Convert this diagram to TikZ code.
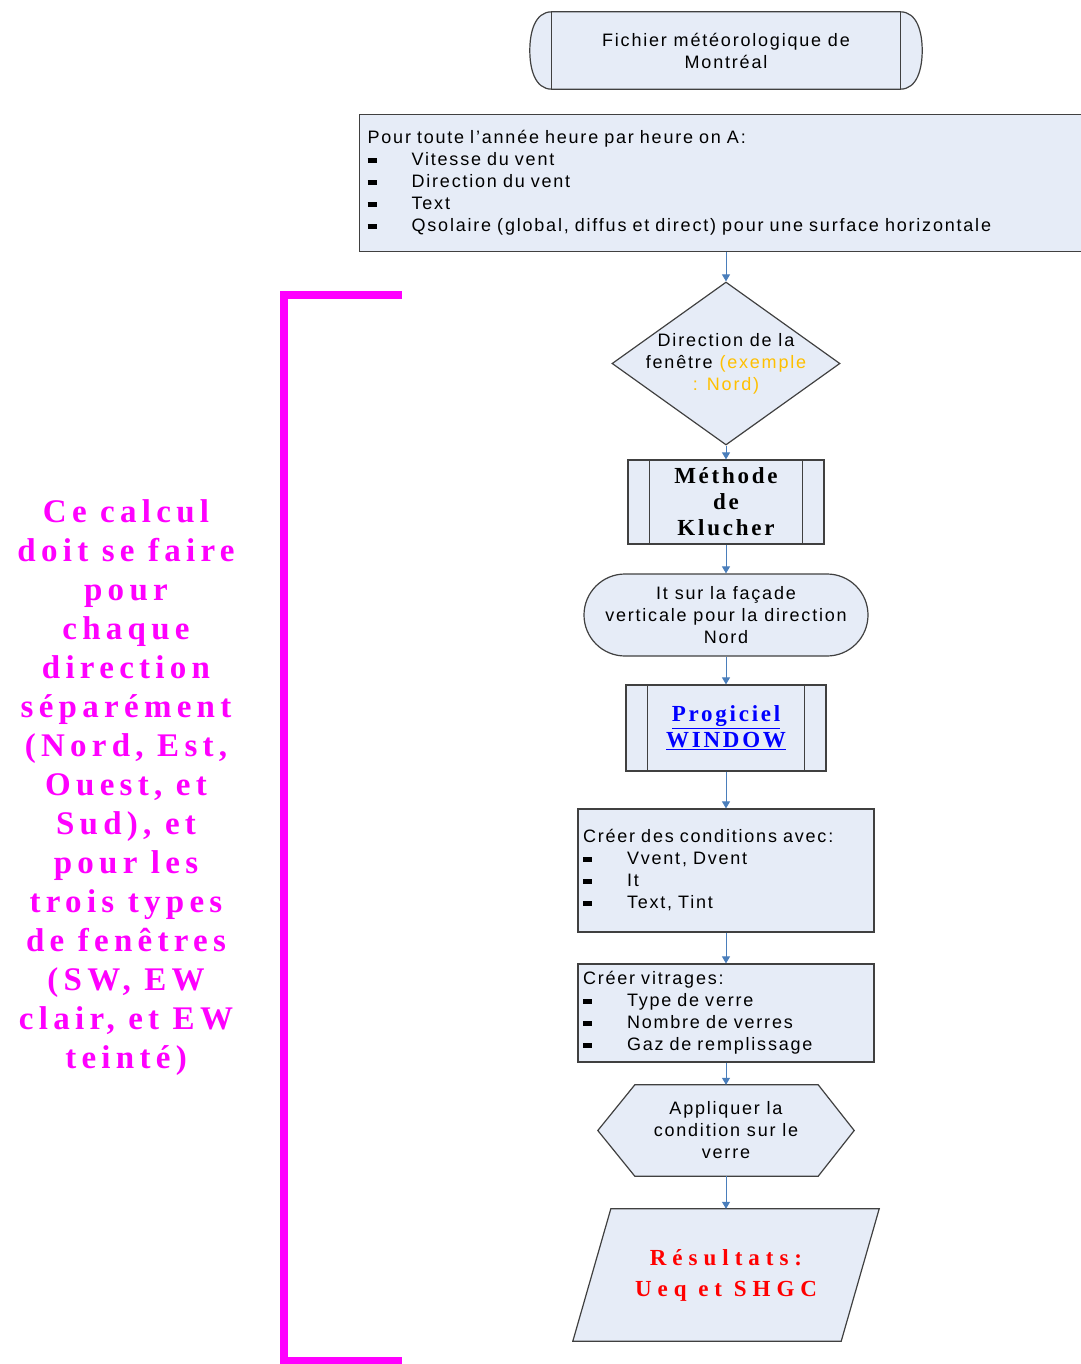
\documentclass[tikz,border=0pt]{standalone}
\usepackage{fontspec}
\setmainfont{Liberation Sans}[LetterSpace=10]
\newfontfamily\boldserif{Liberation Serif}[LetterSpace=12]
\newfontfamily\redserif{Liberation Serif}[LetterSpace=26]
\newfontfamily\magserif{Liberation Serif}[LetterSpace=16]
\usetikzlibrary{shapes.geometric,arrows.meta,calc}
\pgfdeclarelayer{bg}
\pgfsetlayers{bg,main}
\definecolor{boxfill}{HTML}{E6ECF7}
\definecolor{boxline}{HTML}{404040}
\definecolor{arrowblue}{HTML}{4A7EBB}
\definecolor{mag}{HTML}{FF00FF}
\definecolor{gold}{HTML}{FFC000}
\newcommand{\blt}{\makebox[44pt][l]{\rule[3pt]{9pt}{5pt}}}
\begin{document}
\begin{tikzpicture}[x=1pt,y=-1pt,
  txt/.style={font=\fontsize{18}{22}\selectfont, text=black},
  shp/.style={draw=boxline, fill=boxfill, line width=1.2pt},
  inl/.style={draw=boxline, line width=1.2pt},
  conn/.style={draw=arrowblue, line width=1pt, -{Triangle[length=7pt,width=8pt]}},
  bserif/.style={font=\boldserif\bfseries\fontsize{23}{26}\selectfont},
]
\useasboundingbox (0,0) rectangle (1080,1364);

% 1 top terminator
\node[txt, minimum width=392pt, minimum height=77pt, inner sep=0pt, align=center] (t1) at (726,50.5) {Fichier météorologique de\\Montréal};
\begin{pgfonlayer}{bg}
\draw[shp] ($(t1.north west)+(22,0)$) -- ($(t1.north east)+(-22,0)$) to[out=0,in=90] (t1.east) to[out=-90,in=0] ($(t1.south east)+(-22,0)$) -- ($(t1.south west)+(22,0)$) to[out=180,in=-90] (t1.west) to[out=90,in=180] cycle;
\end{pgfonlayer}
\draw[inl] ($(t1.north west)+(22,0)$) -- ($(t1.south west)+(22,0)$);
\draw[inl] ($(t1.north east)+(-22,0)$) -- ($(t1.south east)+(-22,0)$);

% 2 data box
\node[shp, txt, anchor=north west, minimum width=725pt, minimum height=137pt, text width=709pt, inner sep=8pt, align=left] (b2) at (359,114) {Pour toute l'année heure par heure on A:\\
\blt Vitesse du vent\\
\blt Direction du vent\\
\blt Text\\
\blt Qsolaire (global, diffus et direct) pour une surface horizontale};

% 3 diamond
\node[diamond, shp, minimum width=228pt, minimum height=163pt, inner sep=0pt] (d) at (726,363.5) {};
\node[txt, align=center] (dt) at (d.center) {Direction de la\\fenêtre {\color{gold}(exemple}\\{\color{gold}: Nord)}};

% 4 Klucher
\node[shp, bserif, minimum width=196pt, minimum height=84pt, inner sep=0pt, align=center] (m) at (726,502) {Méthode\\de\\Klucher};
\draw[inl] ($(m.north west)+(22,0)$) -- ($(m.south west)+(22,0)$);
\draw[inl] ($(m.north east)+(-22,0)$) -- ($(m.south east)+(-22,0)$);

% 5 terminator
\node[shp, txt, rounded corners=41pt, minimum width=284pt, minimum height=82pt, inner sep=0pt, align=center] (c) at (726,615) {It sur la façade\\verticale pour la direction\\Nord};

% 6 WINDOW
\node[shp, bserif, text=blue, minimum width=200pt, minimum height=86pt, inner sep=0pt, align=center] (p) at (726,728) {\underline{Progiciel}\\\underline{WINDOW}};
\draw[inl] ($(p.north west)+(22,0)$) -- ($(p.south west)+(22,0)$);
\draw[inl] ($(p.north east)+(-22,0)$) -- ($(p.south east)+(-22,0)$);

% 7 conditions
\node[shp, txt, minimum width=296pt, minimum height=123pt, text width=286pt, inner sep=5pt, align=left] (b7) at (726,870.5) {Créer des conditions avec:\\
\blt Vvent, Dvent\\
\blt It\\
\blt Text, Tint};

% 8 vitrages
\node[shp, txt, minimum width=296pt, minimum height=98pt, text width=286pt, inner sep=5pt, align=left] (b8) at (726,1013) {Créer vitrages:\\
\blt Type de verre\\
\blt Nombre de verres\\
\blt Gaz de remplissage};

% 9 hexagon
\node[txt, minimum width=256pt, minimum height=91pt, inner sep=0pt, align=center] (h) at (726,1130.5) {Appliquer la\\condition sur le\\verre};
\begin{pgfonlayer}{bg}
\draw[shp] (h.west) -- ($(h.north west)+(37,0)$) -- ($(h.north east)+(-36,0)$) -- (h.east) -- ($(h.south east)+(-36,0)$) -- ($(h.south west)+(37,0)$) -- cycle;
\end{pgfonlayer}

% 10 parallelogram
\node[font=\redserif\bfseries\fontsize{23}{31}\selectfont, text=red, minimum width=306pt, minimum height=132pt, inner sep=0pt, align=center] (r) at (726,1275) {Résultats:\\Ueq et SHGC};
\begin{pgfonlayer}{bg}
\draw[shp] ($(r.north west)+(38,0)$) -- (r.north east) -- ($(r.south east)+(-38,0)$) -- (r.south west) -- cycle;
\end{pgfonlayer}

% connectors
\draw[conn] (d.north |- b2.south) -- (d.north);
\draw[conn] (d.south) -- (m.north);
\draw[conn] (m.south) -- (c.north);
\draw[conn] (c.south) -- (p.north);
\draw[conn] (p.south) -- (b7.north);
\draw[conn] (b7.south) -- (b8.north);
\draw[conn] (b8.south) -- (h.north);
\draw[conn] (h.south) -- (r.north);

% magenta bracket and note
\coordinate (bt) at (402,295);
\coordinate (bb) at (402,1361);
\draw[mag, line width=8pt] (bt) -- (284,295) -- (284,1361) -- (bb);
\node[font=\magserif\bfseries\fontsize{33}{39}\selectfont, text=mag, align=center] (note) at (126,788) {Ce calcul\\doit se faire\\pour\\chaque\\direction\\séparément\\(Nord, Est,\\Ouest, et\\Sud), et\\pour les\\trois types\\de fenêtres\\(SW, EW\\clair, et EW\\teinté)};
\end{tikzpicture}
\end{document}
